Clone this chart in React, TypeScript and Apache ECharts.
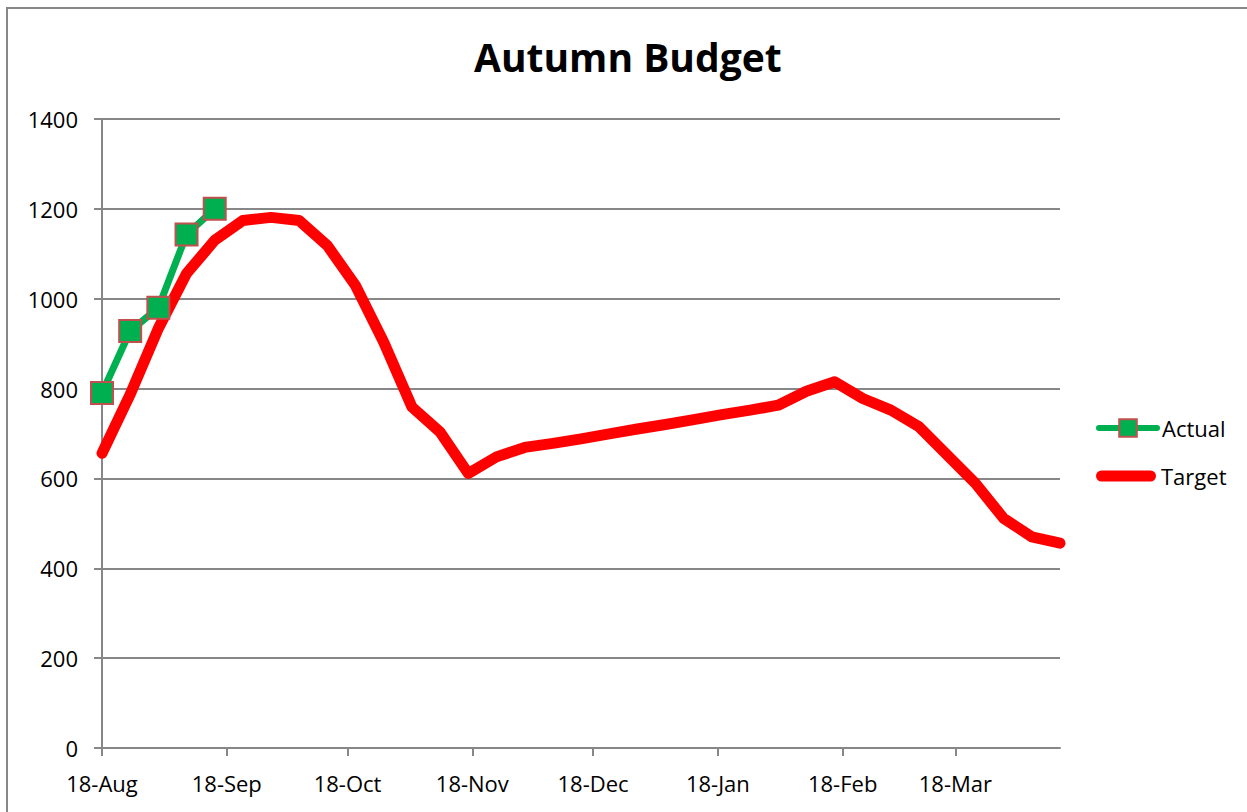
import React, { useEffect, useRef } from "react";
import * as echarts from "echarts";

const weekDates = [
  "2014-08-18", "2014-08-25", "2014-09-01", "2014-09-08", "2014-09-15", "2014-09-22", "2014-09-29",
  "2014-10-06", "2014-10-13", "2014-10-20", "2014-10-27", "2014-11-03", "2014-11-10", "2014-11-17",
  "2014-11-24", "2014-12-01", "2014-12-08", "2014-12-15", "2014-12-22", "2014-12-29", "2015-01-05",
  "2015-01-12", "2015-01-19", "2015-01-26", "2015-02-02", "2015-02-09", "2015-02-16", "2015-02-23",
  "2015-03-02", "2015-03-09", "2015-03-16", "2015-03-23", "2015-03-30", "2015-04-06", "2015-04-13",
];

const targetValues = [
  656, 787, 934, 1056, 1130, 1174, 1181, 1174, 1118, 1029, 903, 759, 703, 611,
  648, 669, 678, 688, 699, 710, 720, 731, 742, 752, 763, 794, 815, 778,
  752, 715, 652, 589, 511, 470, 456,
];

const actualValues = [790, 928, 980, 1143, 1200];

const tickDates = [
  "2014-08-18", "2014-09-18", "2014-10-18", "2014-11-18",
  "2014-12-18", "2015-01-18", "2015-02-18", "2015-03-18",
];

const monthNames = ["Jan", "Feb", "Mar", "Apr", "May", "Jun", "Jul", "Aug", "Sep", "Oct", "Nov", "Dec"];

const FONT = "'Open Sans', 'Noto Sans', sans-serif";
const DAY = 86400000;

function toUTC(s: string): number {
  const [y, m, d] = s.split("-").map(Number);
  return Date.UTC(y, m - 1, d);
}
const origin = toUTC(weekDates[0]);
function toDay(s: string): number {
  return Math.round((toUTC(s) - origin) / DAY);
}

const capsule = "path://M5.5,0 L54.5,0 A5.5,5.5 0 0 1 54.5,11 L5.5,11 A5.5,5.5 0 0 1 5.5,0 Z";

export default function App() {
  const ref = useRef<HTMLDivElement>(null);

  useEffect(() => {
    if (!ref.current) return;
    const chart = echarts.init(ref.current, undefined, { renderer: "svg" });
    const ticks = tickDates.map(toDay);
    const gray = "#878787";
    const legendText = { fontFamily: FONT, fontSize: 22, color: "#000000" };
    chart.setOption({
      animation: false,
      backgroundColor: "#ffffff",
      title: {
        text: "Autumn Budget",
        left: 469,
        top: 32,
        textStyle: { fontFamily: FONT, fontSize: 39, fontWeight: "bold", color: "#000000" },
      },
      legend: [
        {
          orient: "vertical",
          left: 1096,
          top: 417,
          padding: 0,
          itemWidth: 58,
          itemHeight: 22,
          textStyle: legendText,
          lineStyle: { width: 6, cap: "round" },
          data: ["Actual"],
        },
        {
          orient: "vertical",
          left: 1096,
          top: 465,
          padding: 0,
          itemWidth: 60,
          itemHeight: 11,
          textStyle: legendText,
          data: [{ name: "Target", icon: capsule }],
        },
      ],
      grid: { left: 102, right: 187, top: 119, bottom: 64, containLabel: false },
      xAxis: {
        type: "value",
        min: 0,
        max: toDay(weekDates[weekDates.length - 1]),
        splitLine: { show: false },
        axisLine: { show: true, lineStyle: { color: gray, width: 2 } },
        axisTick: { show: true, customValues: ticks, length: 8, lineStyle: { color: gray, width: 2 } },
        axisLabel: {
          customValues: ticks,
          margin: 24,
          fontFamily: FONT,
          fontSize: 22,
          color: "#000000",
          formatter: (v: number) => {
            const d = new Date(origin + v * DAY);
            return d.getUTCDate() + "-" + monthNames[d.getUTCMonth()];
          },
        },
      },
      yAxis: {
        type: "value",
        min: 0,
        max: 1400,
        interval: 200,
        axisLine: { show: true, lineStyle: { color: gray, width: 2 } },
        axisTick: { show: true, length: 8, lineStyle: { color: gray, width: 2 } },
        splitLine: { show: true, lineStyle: { color: gray, width: 2 } },
        axisLabel: {
          margin: 24,
          fontFamily: FONT,
          fontSize: 22,
          color: "#000000",
          formatter: (v: number) => String(v),
        },
      },
      graphic: [
        {
          type: "rect",
          shape: { x: 7, y: 8, width: 1400, height: 1000 },
          style: { fill: "none", stroke: gray, lineWidth: 2 },
          silent: true,
        },
      ],
      series: [
        {
          name: "Actual",
          type: "line",
          data: actualValues.map((v, i) => [toDay(weekDates[i]), v]),
          symbol: "rect",
          symbolSize: 22,
          showAllSymbol: true,
          itemStyle: { color: "#00B050", borderColor: "#C0504D", borderWidth: 2 },
          lineStyle: { color: "#00B050", width: 7 },
          emphasis: { disabled: true },
        },
        {
          name: "Target",
          type: "line",
          data: targetValues.map((v, i) => [toDay(weekDates[i]), v]),
          symbol: "none",
          itemStyle: { color: "#FF0000" },
          lineStyle: { color: "#FF0000", width: 11, cap: "round", join: "round" },
          emphasis: { disabled: true },
        },
      ],
    });
    return () => chart.dispose();
  }, []);

  return (
    <div
      ref={ref}
      style={{ position: "fixed", left: 0, top: 0, width: 1247, height: 812, background: "#fff" }}
    />
  );
}
